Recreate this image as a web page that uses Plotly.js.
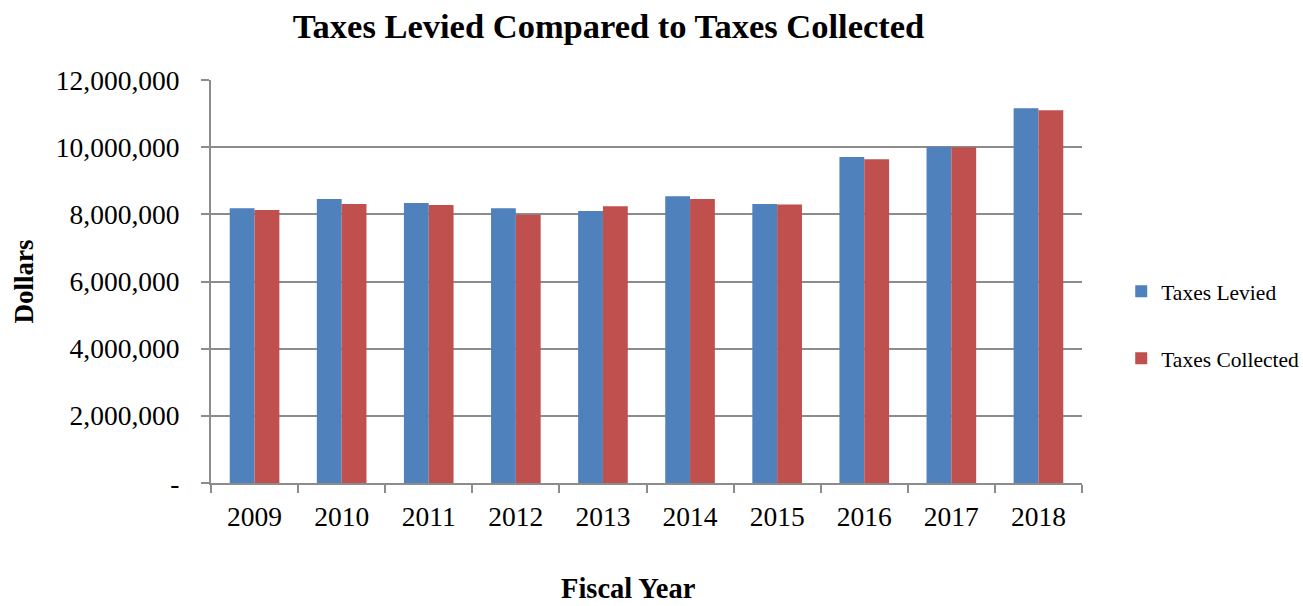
<!DOCTYPE html>
<html>
<head>
<meta charset="utf-8">
<script src="https://cdn.plot.ly/plotly-3.0.1.min.js"></script>
<style>html,body{margin:0;padding:0;background:#fff;}#chart{width:1303px;height:606px;}</style>
</head>
<body>
<div id="chart"></div>
<script>
var years = ["2009","2010","2011","2012","2013","2014","2015","2016","2017","2018"];
var taxesLevied = [8180000, 8460000, 8340000, 8180000, 8100000, 8540000, 8310000, 9710000, 10010000, 11160000];
var taxesCollected = [8130000, 8310000, 8280000, 7990000, 8240000, 8460000, 8290000, 9640000, 10000000, 11100000];
var yTickVals = [0, 2000000, 4000000, 6000000, 8000000, 10000000, 12000000];
var yTickText = ["-", "2,000,000", "4,000,000", "6,000,000", "8,000,000", "10,000,000", "12,000,000"];

var font = "Liberation Serif, Times New Roman, serif";
var traces = [
  {type: "bar", name: "Taxes Levied", x: years, y: taxesLevied, marker: {color: "#4F81BD"}, legendgroup: "a"},
  {type: "bar", name: "Taxes Collected", x: years, y: taxesCollected, marker: {color: "#C0504D"}, legendgroup: "b"}
];
var layout = {
  width: 1303, height: 606,
  margin: {l: 211, r: 221, t: 80, b: 123},
  paper_bgcolor: "#fff", plot_bgcolor: "#fff",
  font: {family: font, color: "#000", size: 27},
  title: {text: "<b>Taxes Levied Compared to Taxes Collected</b>", font: {family: font, size: 34.5, color: "#000"}, x: 0.467, xanchor: "center", y: 0.957, yanchor: "middle"},
  barmode: "group", bargap: 0.43, bargroupgap: 0,
  xaxis: {
    type: "category", showgrid: false, showline: true, linecolor: "#8c8c8c", linewidth: 2,
    ticks: "outside", tickson: "boundaries", ticklen: 8, tickcolor: "#8c8c8c", tickwidth: 2,
    tickfont: {family: font, size: 27.5, color: "#000"}, ticklabelstandoff: 8
  },
  yaxis: {
    range: [0, 12000000], tickvals: yTickVals, ticktext: yTickText,
    showgrid: true, gridcolor: "#8c8c8c", gridwidth: 2, zeroline: false,
    showline: true, linecolor: "#8c8c8c", linewidth: 2,
    ticks: "outside", ticklen: 8, tickcolor: "#8c8c8c", tickwidth: 2,
    tickfont: {family: font, size: 27.5, color: "#000"}, ticklabelstandoff: 16,
    title: {text: "<b>Dollars</b>", font: {family: font, size: 27, color: "#000"}, standoff: 14}
  },
  annotations: [{
    text: "<b>Fiscal Year</b>", xref: "paper", yref: "paper", x: 0.4788, y: -0.3015,
    xanchor: "center", yanchor: "bottom", showarrow: false, borderpad: 0,
    font: {family: font, size: 28.5, color: "#000"}
  }],
  legend: {
    xref: "container", yref: "container",
    x: 0.8605, xanchor: "left", y: 0.464, yanchor: "middle",
    font: {family: font, size: 21.5, color: "#000"},
    traceorder: "grouped", tracegroupgap: 36, itemwidth: 30,
    bgcolor: "rgba(0,0,0,0)"
  },
  showlegend: true
};
Plotly.newPlot("chart", traces, layout, {displayModeBar: false, staticPlot: true});
</script>
</body>
</html>
